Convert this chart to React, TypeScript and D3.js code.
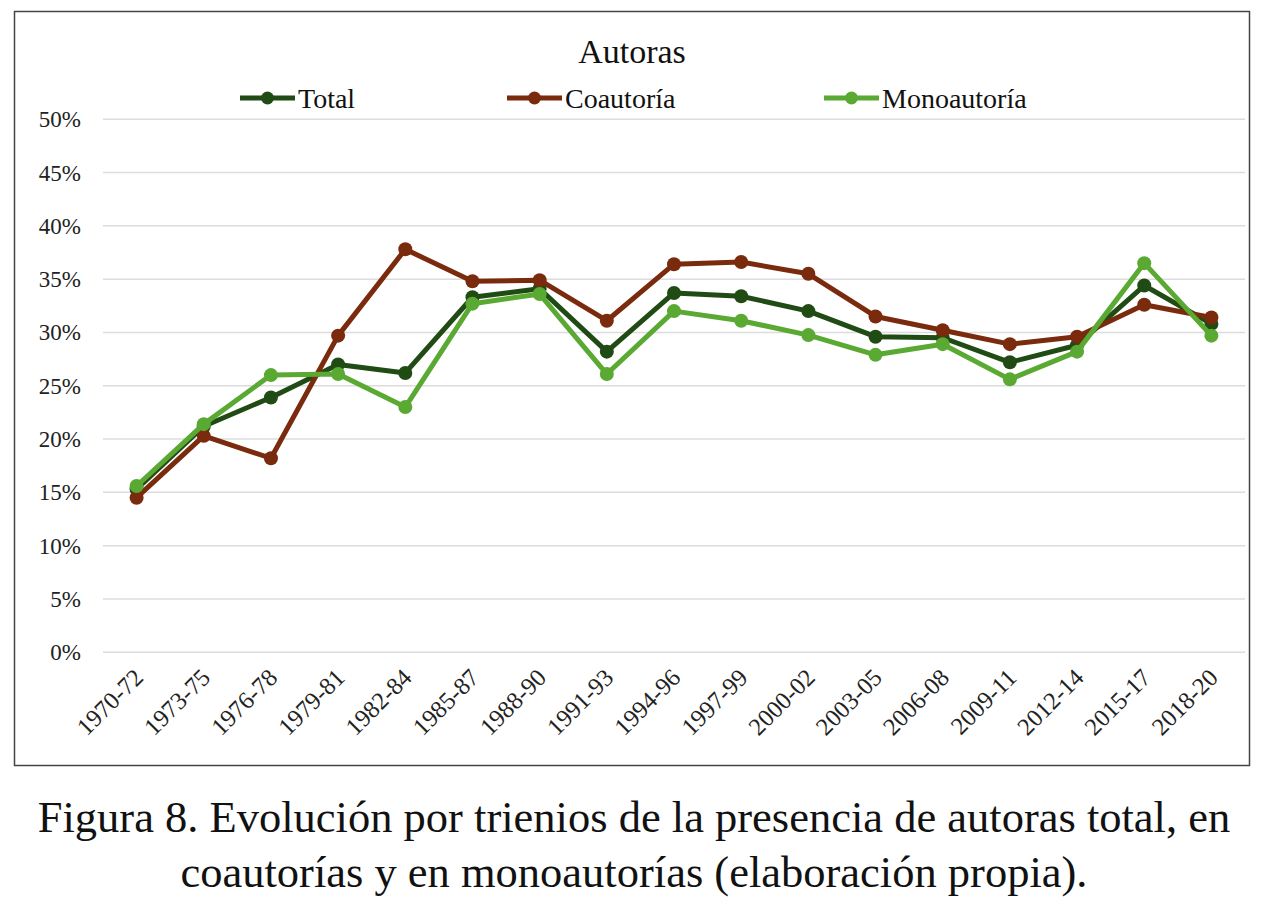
import React from "react";
import * as d3 from "d3";

const categories = ["1970-72","1973-75","1976-78","1979-81","1982-84","1985-87","1988-90","1991-93","1994-96","1997-99","2000-02","2003-05","2006-08","2009-11","2012-14","2015-17","2018-20"];
const totalValues = [15.3, 21.2, 23.9, 27.0, 26.2, 33.3, 34.1, 28.2, 33.7, 33.4, 32.0, 29.6, 29.5, 27.2, 28.8, 34.4, 30.8];
const coautoriaValues = [14.5, 20.3, 18.2, 29.7, 37.8, 34.8, 34.9, 31.1, 36.4, 36.6, 35.5, 31.5, 30.2, 28.9, 29.6, 32.6, 31.4];
const monoautoriaValues = [15.6, 21.4, 26.0, 26.1, 23.0, 32.7, 33.6, 26.1, 32.0, 31.1, 29.75, 27.9, 28.9, 25.6, 28.2, 36.5, 29.7];
const yTicks = [0, 5, 10, 15, 20, 25, 30, 35, 40, 45, 50];
const seriesNames = ["Total", "Coautoría", "Monoautoría"];
const chartTitle = "Autoras";
const captionLines = [
  "Figura 8. Evolución por trienios de la presencia de autoras total, en",
  "coautorías y en monoautorías (elaboración propia).",
];

const colors = ["#214b15", "#7a2a0d", "#5aa933"];
const FONT = "'Liberation Serif', 'Times New Roman', serif";

export default function App() {
  const W = 1271, H = 910;
  const x = d3.scalePoint<string>().domain(categories).range([103, 1245]).padding(0.5);
  const y = d3.scaleLinear().domain([0, 50]).range([652.3, 119.2]);
  const line = d3.line<number>().x((_, i) => x(categories[i]) as number).y((d) => y(d));
  const series = [totalValues, coautoriaValues, monoautoriaValues];
  const legendX = [240, 507, 824];

  return (
    <svg width={W} height={H} style={{ position: "absolute", left: 0, top: 0, background: "#fff" }} fontFamily={FONT}>
      <rect x={0} y={0} width={W} height={H} fill="#fff" />
      <rect x={14.5} y={11.5} width={1235} height={754} fill="#fff" stroke="#444" strokeWidth={1.5} />
      <text x={632} y={63} textAnchor="middle" fontSize={34} fill="#111">{chartTitle}</text>
      {seriesNames.map((n, i) => (
        <g key={n}>
          <line x1={legendX[i]} x2={legendX[i] + 55} y1={98} y2={98} stroke={colors[i]} strokeWidth={5} />
          <circle cx={legendX[i] + 27.5} cy={98} r={6.5} fill={colors[i]} />
          <text x={legendX[i] + 58} y={107.5} fontSize={28} fill="#111">{n}</text>
        </g>
      ))}
      {yTicks.map((t) => (
        <g key={t}>
          <line x1={103} x2={1245} y1={y(t)} y2={y(t)} stroke="#dcdcdc" strokeWidth={1.5} />
          <text x={81} y={y(t) + 8} textAnchor="end" fontSize={23} fill="#222">{t}%</text>
        </g>
      ))}
      {categories.map((c) => (
        <text key={c} transform={`translate(${(x(c) as number) + 8},${679}) rotate(-45)`} textAnchor="end" fontSize={24.5} fill="#222">{c}</text>
      ))}
      {series.map((vals, si) => (
        <g key={si}>
          <path d={line(vals) || ""} fill="none" stroke={colors[si]} strokeWidth={5} strokeLinejoin="round" />
          {vals.map((v, i) => (
            <circle key={i} cx={x(categories[i]) as number} cy={y(v)} r={7} fill={colors[si]} />
          ))}
        </g>
      ))}
      {captionLines.map((l, i) => (
        <text key={i} x={634} y={832 + i * 55} textAnchor="middle" fontSize={44.5} fill="#111">{l}</text>
      ))}
    </svg>
  );
}
